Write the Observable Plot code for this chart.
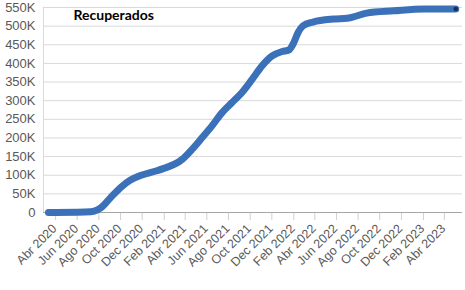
<!DOCTYPE html>
<html>
<head>
<meta charset="utf-8">
<script src="https://cdn.jsdelivr.net/npm/d3@7"></script>
<script src="https://cdn.jsdelivr.net/npm/@observablehq/plot@0.6"></script>
<style>
  html, body { margin: 0; padding: 0; background: #fff; }
</style>
</head>
<body>
<div id="chart"></div>
<script>
const title = "Recuperados";
const dates = ["2020-03-12","2020-04-01","2020-06-01","2020-07-09","2020-07-28","2020-08-11","2020-09-03","2020-10-01","2020-10-29","2020-11-26","2021-01-11","2021-01-27","2021-03-24","2021-04-21","2021-05-19","2021-06-16","2021-07-14","2021-08-11","2021-09-08","2021-10-07","2021-11-04","2021-12-02","2021-12-30","2022-01-18","2022-01-30","2022-02-13","2022-02-27","2022-03-27","2022-05-23","2022-07-01","2022-07-19","2022-08-25","2022-11-09","2023-02-02","2023-05-03"];
const values = [0,0,500,2000,7000,16000,40000,67000,87000,99000,112000,117000,143000,170000,201000,233000,268000,295000,322000,358000,394000,420000,432000,436000,452000,483000,501000,511000,519000,521000,525000,535000,541000,546000,546000];
const xTicks = ["2020-04-01","2020-06-01","2020-08-01","2020-10-01","2020-12-01","2021-02-01","2021-04-01","2021-06-01","2021-08-01","2021-10-01","2021-12-01","2022-02-01","2022-04-01","2022-06-01","2022-08-01","2022-10-01","2022-12-01","2023-02-01","2023-04-01"];
const monthNames = ["Ene","Feb","Mar","Abr","May","Jun","Jul","Ago","Sep","Oct","Nov","Dec"];
const yTicks = [0,50000,100000,150000,200000,250000,300000,350000,400000,450000,500000,550000];
const xDomain = ["2020-02-27","2023-05-22"];

const data = dates.map((d, i) => ({date: new Date(d), value: values[i]}));
const last = [data[data.length - 1]];
const xDom = xDomain.map(d => new Date(d));
const xT = xTicks.map(d => new Date(d));
const fmtX = d => monthNames[d.getUTCMonth()] + " " + d.getUTCFullYear();

const chart = Plot.plot({
  width: 465,
  height: 290,
  marginLeft: 43,
  marginRight: 3,
  marginTop: 7,
  marginBottom: 78,
  style: {fontFamily: "'Liberation Sans', Arial, sans-serif", fontSize: "13px", color: "#595959", background: "#fff", overflow: "visible"},
  x: {type: "utc", domain: xDom},
  y: {domain: [0, 550000]},
  marks: [
    Plot.gridY(yTicks, {stroke: "#d9d9d9", strokeOpacity: 1}),
    Plot.ruleX([xDom[0]], {stroke: "#d9d9d9"}),
    Plot.axisY(yTicks, {tickSize: 0, tickPadding: 8, fontSize: 13, fill: "#595959",
      tickFormat: d => d === 0 ? "0" : (d / 1000) + "K", label: null}),
    Plot.axisX(xT, {tickSize: 8, stroke: "#d0d0d0", tickFormat: () => "", label: null}),
    Plot.text(xT, {x: d => d, frameAnchor: "bottom", text: fmtX, rotate: -45, textAnchor: "end",
      lineAnchor: "middle", dx: -1, dy: 14, fontSize: 12.5, fill: "#595959"}),
    Plot.ruleY([0], {stroke: "#a6a6a6"}),
    Plot.line(data, {x: "date", y: "value", stroke: "#3b71b8", strokeWidth: 7, curve: "monotone-x"}),
    Plot.dot(last, {x: "date", y: "value", r: 2.3, fill: "#1d2f4c"}),
    Plot.text([title], {frameAnchor: "top-left", textAnchor: "start", lineAnchor: "middle", dx: 30, dy: 8,
      fontWeight: "bold", fontSize: 14, fill: "#000", fontFamily: "Lato, 'Open Sans', sans-serif"})
  ]
});
document.getElementById("chart").appendChild(chart);
</script>
</body>
</html>
